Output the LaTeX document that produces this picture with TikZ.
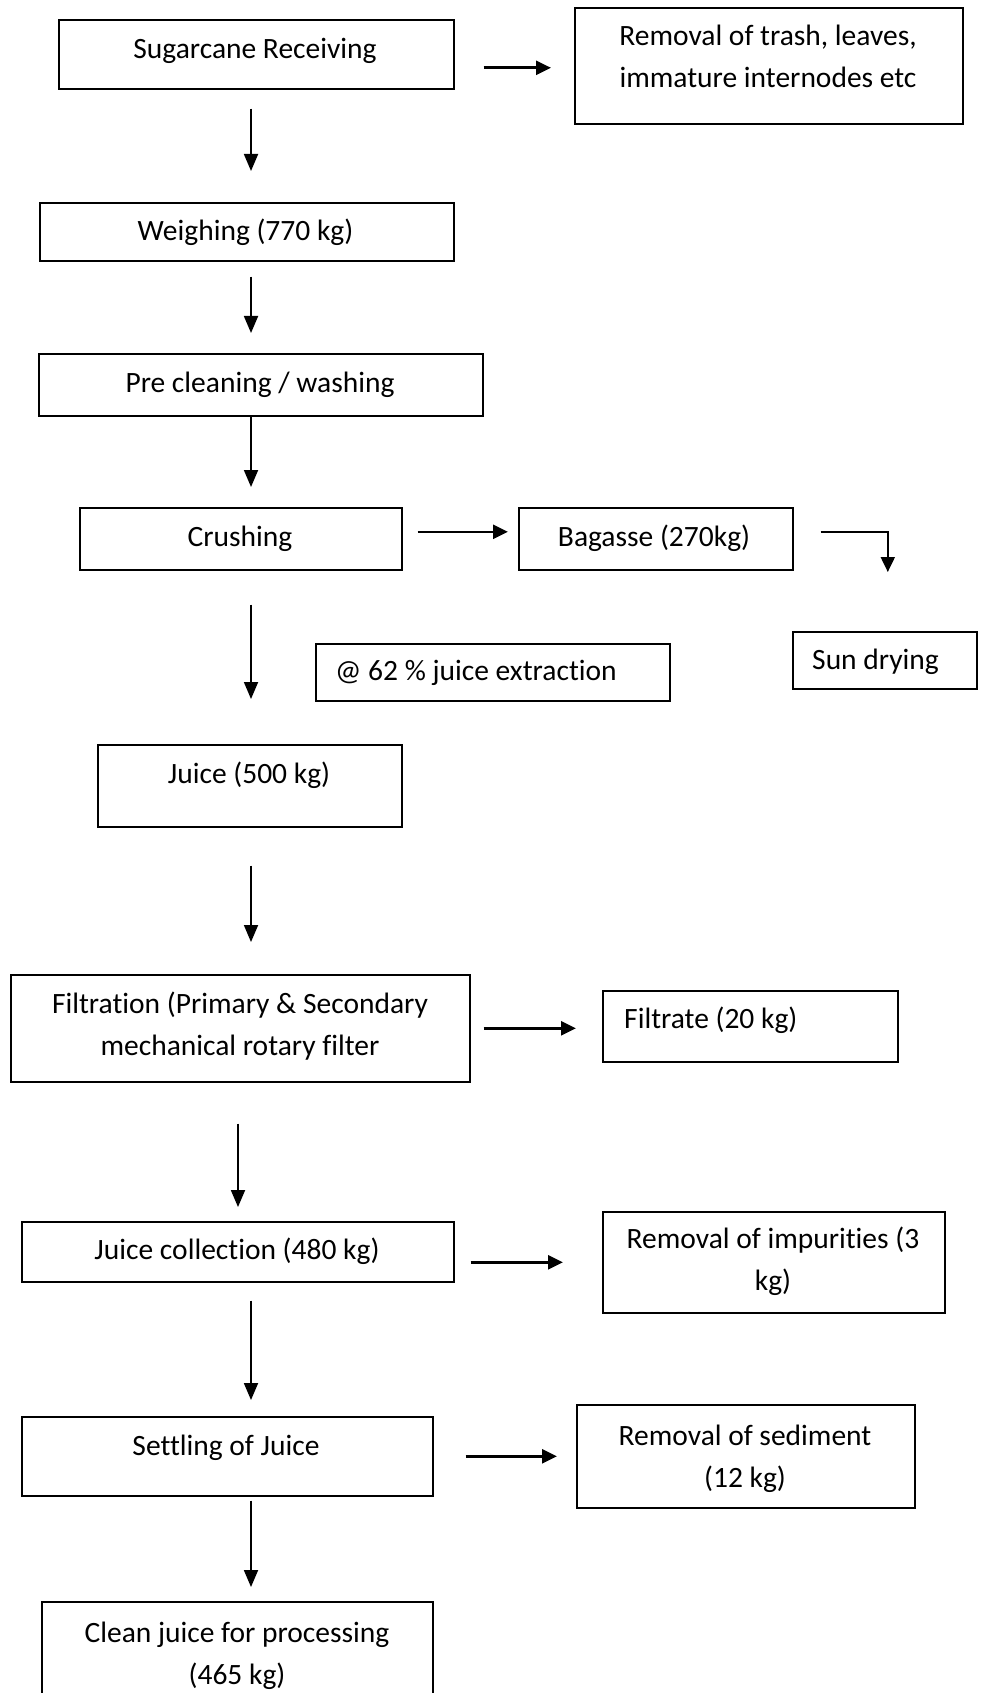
\documentclass[tikz,border=0pt]{standalone}
\usepackage{fontspec}
\setmainfont{Carlito}[Ligatures={NoCommon}]
\usetikzlibrary{arrows.meta}
\begin{document}
\begin{tikzpicture}[x=1pt,y=-1pt,
  box/.style={draw, line width=1.6pt, inner sep=0pt, anchor=north west},
  lbl/.style={font=\fontsize{29.5}{42}\selectfont, align=center, inner sep=0pt, anchor=base},
  lbll/.style={font=\fontsize{29.5}{42}\selectfont, inner sep=0pt, anchor=base west},
  varr/.style={line width=1.8pt, -{Triangle[length=17pt,width=14pt]}},
  harr/.style={line width=2.6pt, -{Triangle[length=15pt,width=14pt]}}]
\fill[white] (0,0) rectangle (982,1693);
\useasboundingbox (0,0) rectangle (982,1693);
\coordinate (colA) at (251,0);
\coordinate (colB) at (238,0);
% boxes
\node[box, minimum width=395pt, minimum height=69pt] (recv) at (58,19) {};
\node[box, minimum width=388pt, minimum height=116pt] (trash) at (574,7) {};
\node[box, minimum width=414pt, minimum height=58pt] (weigh) at (39,202) {};
\node[box, minimum width=444pt, minimum height=62pt] (pre) at (38,353) {};
\node[box, minimum width=322pt, minimum height=62pt] (crush) at (79,507) {};
\node[box, minimum width=274pt, minimum height=62pt] (bag) at (518,507) {};
\node[box, minimum width=184pt, minimum height=57pt] (sun) at (792,631) {};
\node[box, minimum width=354pt, minimum height=57pt] (ext) at (315,643) {};
\node[box, minimum width=304pt, minimum height=82pt] (juice) at (97,744) {};
\node[box, minimum width=459pt, minimum height=107pt] (filt) at (10,974) {};
\node[box, minimum width=295pt, minimum height=71pt] (filtrate) at (602,990) {};
\node[box, minimum width=432pt, minimum height=60pt] (jc) at (21,1221) {};
\node[box, minimum width=342pt, minimum height=101pt] (imp) at (602,1211) {};
\node[box, minimum width=411pt, minimum height=79pt] (settle) at (21,1416) {};
\node[box, minimum width=338pt, minimum height=103pt] (sed) at (576,1404) {};
\node[box, minimum width=391pt, minimum height=110pt] (clean) at (41,1601) {};
% texts (multi-line: base = last line)
\node[lbl] (t-recv) at (255,58.5) {Sugarcane Receiving};
\node[lbl] (t-trash) at (768,88) {Removal of trash, leaves,\\immature internodes etc};
\node[lbl] (t-weigh) at (245.5,241) {Weighing (770 kg)};
\node[lbl] (t-pre) at (260,392) {Pre cleaning / washing};
\node[lbl] (t-crush) at (240,546) {Crushing};
\node[lbl] (t-bag) at (654,546) {Bagasse (270kg)};
\node[lbll] (t-sun) at (812,669) {Sun drying};
\node[lbll] (t-ext) at (335,680) {@ 62 \% juice extraction};
\node[lbl] (t-juice) at (249,783) {Juice (500 kg)};
\node[lbl] (t-filt) at (240,1055) {Filtration (Primary \& Secondary\\mechanical rotary filter};
\node[lbll] (t-filtrate) at (624,1028) {Filtrate (20 kg)};
\node[lbl] (t-jc) at (237,1259) {Juice collection (480 kg)};
\node[lbl] (t-imp) at (773,1290) {Removal of impurities (3\\kg)};
\node[lbl] (t-settle) at (226,1455) {Settling of Juice};
\node[lbl] (t-sed) at (745,1487) {Removal of sediment\\(12 kg)};
\node[lbl] (t-clean) at (237,1684) {Clean juice for processing\\(465 kg)};
% vertical arrows
\draw[varr, shorten <=19pt, shorten >=31pt] (recv.south -| colA) -- (weigh.north -| colA);
\draw[varr, shorten <=15pt, shorten >=20pt] (weigh.south -| colA) -- (pre.north -| colA);
\draw[varr, shorten >=20pt] (pre.south -| colA) -- (crush.north -| colA);
\draw[varr, shorten <=34pt, shorten >=45pt] (crush.south -| colA) -- (juice.north -| colA);
\draw[varr, shorten <=38pt, shorten >=32pt] (juice.south -| colA) -- (filt.north -| colA);
\draw[varr, shorten <=41pt, shorten >=14pt] (filt.south -| colB) -- (jc.north -| colB);
\draw[varr, shorten <=18pt, shorten >=16pt] (jc.south -| colA) -- (settle.north -| colA);
\draw[varr, shorten <=4pt, shorten >=14pt] (settle.south -| colA) -- (clean.north -| colA);
% horizontal arrows
\draw[harr, shorten <=29pt, shorten >=23pt] ([yshift=-2pt]recv.east |- trash.west) -- ([yshift=-2pt]trash.west);
\draw[harr, shorten <=15pt, shorten >=10pt] ([yshift=7pt]crush.east) -- ([yshift=7pt]bag.west);
\draw[harr, line width=2pt] ([xshift=27pt,yshift=7pt]bag.east) -| ([xshift=3pt,yshift=59pt]sun.north);
\draw[harr, shorten <=13pt, shorten >=26pt] (filt.east) -- (filt.east -| filtrate.west);
\draw[harr, shorten <=16pt, shorten >=39pt] (jc.east |- imp.west) -- (imp.west);
\draw[harr, shorten <=32pt, shorten >=19pt] (settle.east) -- (settle.east -| sed.west);
\end{tikzpicture}
\end{document}
